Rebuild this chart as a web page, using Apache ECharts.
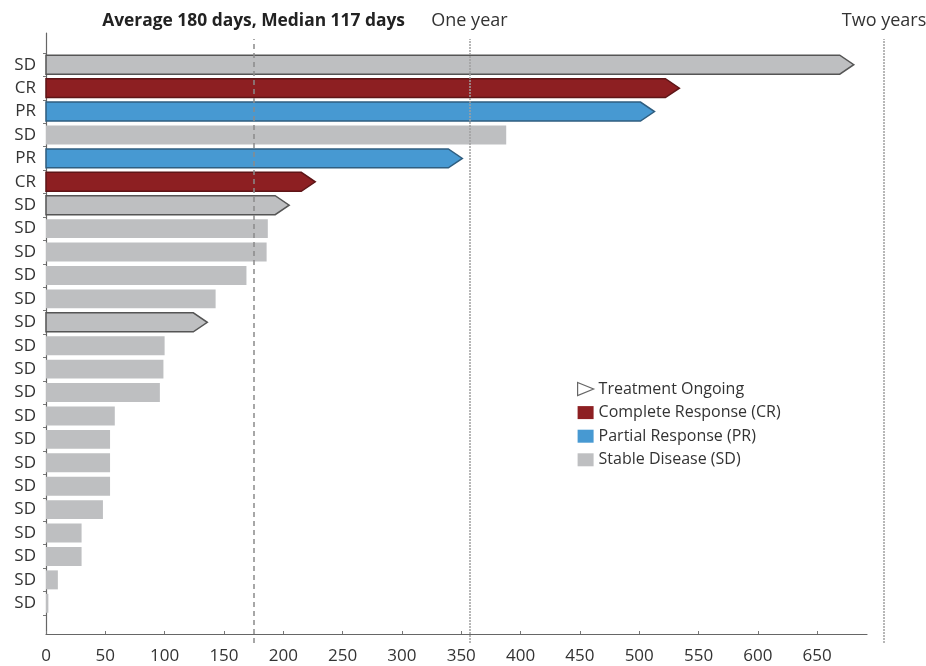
<!DOCTYPE html>
<html><head><meta charset="utf-8">
<script src="https://cdn.jsdelivr.net/npm/echarts@6/dist/echarts.min.js"></script>
<style>html,body{margin:0;padding:0;background:#fff}#c{width:926px;height:666px}</style>
</head><body><div id="c"></div>
<script>
// ---- data ----
const rowLabels = ['SD','CR','PR','SD','PR','CR','SD','SD','SD','SD','SD','SD','SD','SD','SD','SD','SD','SD','SD','SD','SD','SD','SD','SD'];
const days      = [681, 534, 513, 388, 351, 227, 205, 187, 186, 169, 143, 136, 100, 99, 96, 58, 54, 54, 54, 48, 30, 30, 10, 2];
const ongoing   = [1, 1, 1, 0, 1, 1, 1, 0, 0, 0, 0, 1, 0, 0, 0, 0, 0, 0, 0, 0, 0, 0, 0, 0];
const xTicks    = [0, 50, 100, 150, 200, 250, 300, 350, 400, 450, 500, 550, 600, 650];
const refLabels = ['Average 180 days, Median 117 days', 'One year', 'Two years'];
const refDays   = [175, 357, 706.5];
const typeNames = {CR: 'Complete Response (CR)', PR: 'Partial Response (PR)', SD: 'Stable Disease (SD)'};
const ongoingName = 'Treatment Ongoing';

const fills   = {CR: '#8d1f22', PR: '#4799d2', SD: '#bebfc1'};
const strokes = {CR: '#5e1517', PR: '#2f5e80', SD: '#555555'};
const FONT = '"Open Sans", sans-serif';
const X_MAX_BARS = 706.5, X_MAX_AXIS = 692;

function makeRender(type) {
  return function (params, api) {
    const v = api.value(0), r = api.value(1), on = api.value(2);
    const p0 = api.coord([0, r]), p1 = api.coord([v, r]);
    const h = api.size([0, 1])[1] * 0.81;
    const cy = p0[1], top = cy - h / 2, bot = cy + h / 2;
    const x0 = p0[0], x1 = p1[0];
    let pts;
    if (on) {
      const a = Math.min(14, x1 - x0);
      pts = [[x0, top], [x1 - a, top], [x1, cy], [x1 - a, bot], [x0, bot]];
    } else {
      pts = [[x0, top], [x1, top], [x1, bot], [x0, bot]];
    }
    return {
      type: 'polygon', shape: {points: pts},
      style: {fill: fills[type], stroke: on ? strokes[type] : null, lineWidth: on ? 1.5 : 0}
    };
  };
}

const barSeries = ['CR', 'PR', 'SD'].map(t => ({
  name: typeNames[t], type: 'custom', xAxisIndex: 0, yAxisIndex: 0,
  renderItem: makeRender(t), itemStyle: {color: fills[t]},
  encode: {x: 0, y: 1},
  data: rowLabels.map((l, i) => l === t ? [days[i], i, ongoing[i]] : null).filter(d => d),
  z: 2
}));

const refStyles = [
  {type: [5, 4], color: '#8a8a8a', width: 1.5},
  {type: [2, 1], color: '#a0a0a0', width: 1.5},
  {type: [2, 1], color: '#a0a0a0', width: 1.5}
];

const option = {
  animation: false,
  backgroundColor: '#fff',
  grid: [
    {left: 46, right: 926 - 884, top: 53, bottom: 51},
    {left: 46, right: 926 - 867, top: 33, bottom: 32},
    {left: 46, right: 926 - 884, top: 39, bottom: 23}
  ],
  xAxis: [
    {type: 'value', gridIndex: 0, min: 0, max: X_MAX_BARS, show: false},
    {type: 'value', gridIndex: 1, min: 0, max: X_MAX_AXIS,
      axisLine: {show: true, lineStyle: {color: '#666', width: 1.2}},
      axisTick: {show: true, inside: true, length: 3, lineStyle: {color: '#777'}, customValues: xTicks},
      axisLabel: {color: '#333', fontSize: 17, fontFamily: FONT, margin: 14, customValues: xTicks},
      splitLine: {show: false}},
    {type: 'value', gridIndex: 2, min: 0, max: X_MAX_BARS, show: false}
  ],
  yAxis: [
    {type: 'category', gridIndex: 0, inverse: true, data: rowLabels,
      axisLine: {show: false},
      axisTick: {show: true, length: 3, lineStyle: {color: '#777'}},
      axisLabel: {color: '#333', fontSize: 17, fontFamily: FONT, margin: 10}},
    {type: 'value', gridIndex: 1, min: 0, max: 1,
      axisLine: {show: true, lineStyle: {color: '#666', width: 1.2}},
      axisTick: {show: false}, axisLabel: {show: false}, splitLine: {show: false}},
    {type: 'value', gridIndex: 2, min: 0, max: 1, show: false}
  ],
  legend: {
    orient: 'vertical', left: 572, top: 376, itemWidth: 16, itemHeight: 13, itemGap: 7.6,
    selectedMode: false, symbolKeepAspect: false,
    textStyle: {color: '#333', fontSize: 16, fontFamily: FONT, lineHeight: 16},
    data: [
      {name: ongoingName, icon: 'path://M0,0 L16,9 L0,18 Z',
        itemStyle: {color: '#fff', borderColor: '#666', borderWidth: 1.2}},
      {name: typeNames.CR, icon: 'rect'},
      {name: typeNames.PR, icon: 'rect'},
      {name: typeNames.SD, icon: 'rect'}
    ]
  },
  series: [
    ...barSeries,
    {name: ongoingName, type: 'line', xAxisIndex: 2, yAxisIndex: 2, data: [],
      itemStyle: {color: '#fff', borderColor: '#666'}, z: 5,
      markLine: {
        symbol: 'none', silent: true,
        data: refDays.map((d, i) => ({
          xAxis: d, name: refLabels[i],
          lineStyle: refStyles[i],
          label: {show: true, position: 'end', formatter: refLabels[i], distance: 9,
            color: i === 0 ? '#222' : '#333', fontSize: i === 0 ? 17.4 : 18,
            fontWeight: i === 0 ? 'bold' : 'normal', fontFamily: FONT}
        }))
      }}
  ]
};
echarts.init(document.getElementById('c')).setOption(option);
</script></body></html>
